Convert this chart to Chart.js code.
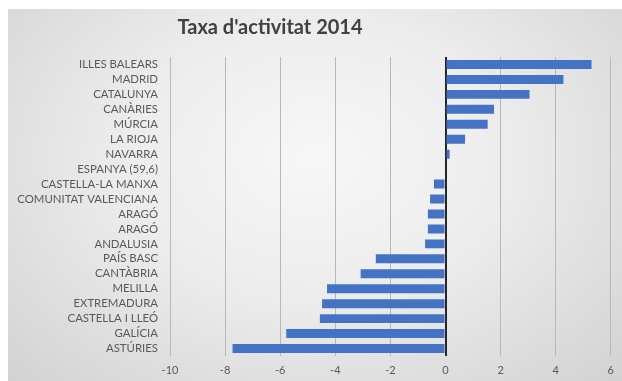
<!DOCTYPE html>
<html>
<head>
<meta charset="utf-8">
<script src="https://cdn.jsdelivr.net/npm/chart.js@4/dist/chart.umd.min.js"></script>
<style>
  html, body { margin: 0; padding: 0; background: #fff; }
  #wrap { position: relative; width: 622px; height: 381px; overflow: hidden; }
  #bg {
    position: absolute; left: 8px; top: 9px; width: 614px; height: 372px;
    background: radial-gradient(ellipse at 50% 40%, #f7f7f7 0%, #ececec 45%, #d2d2d2 100%);
  }
  #chart { position: absolute; left: 0; top: 0; }
</style>
</head>
<body>
<div id="wrap">
  <div id="bg"></div>
  <canvas id="chart" width="622" height="381"></canvas>
</div>
<script>
const regions = [
  'ILLES BALEARS', 'MADRID', 'CATALUNYA', 'CANÀRIES', 'MÚRCIA', 'LA RIOJA',
  'NAVARRA', 'ESPANYA (59,6)', 'CASTELLA-LA MANXA', 'COMUNITAT VALENCIANA',
  'ARAGÓ', 'ARAGÓ', 'ANDALUSIA', 'PAÍS BASC', 'CANTÀBRIA', 'MELILLA',
  'EXTREMADURA', 'CASTELLA I LLEÓ', 'GALÍCIA', 'ASTÚRIES'
]
const diffs = [
  5.3, 4.28, 3.05, 1.76, 1.53, 0.71,
  0.15, 0, -0.42, -0.56,
  -0.64, -0.64, -0.74, -2.53, -3.08, -4.3,
  -4.48, -4.56, -5.78, -7.73
]
const xMin = -10
const xMax = 6
const xStep = 2
const titleText = "Taxa d'activitat 2014"

const font = 'Lato, "Open Sans", sans-serif'

// title sits left of centre in the original, so draw it by hand
const titlePlugin = {
  id: 'offsetTitle',
  afterDraw(chart) {
    const ctx = chart.ctx
    ctx.save()
    ctx.fillStyle = '#404040'
    ctx.font = 'bold 20px ' + font
    ctx.textAlign = 'center'
    ctx.textBaseline = 'alphabetic'
    ctx.fillText(titleText, 270, 34)
    ctx.restore()
  },
}

new Chart(document.getElementById('chart'), {
  type: 'bar',
  data: {
    labels: regions.map((r, i) => i),
    datasets: [
      {
        data: diffs,
        backgroundColor: '#4472c4',
        barPercentage: 0.6,
        categoryPercentage: 1,
      },
    ],
  },
  plugins: [titlePlugin],
  options: {
    indexAxis: 'y',
    responsive: false,
    animation: false,
    layout: { padding: { left: 0, right: 11, top: 57, bottom: 0 } },
    plugins: {
      legend: { display: false },
      tooltip: { enabled: false },
      title: { display: false },
    },
    scales: {
      x: {
        min: xMin,
        max: xMax,
        ticks: {
          stepSize: xStep,
          color: '#595959',
          font: { family: font, size: 11 },
          padding: 8,
        },
        grid: {
          drawTicks: false,
          color: (ctx) => (ctx.tick && ctx.tick.value === 0 ? '#262626' : '#b8b8b8'),
          lineWidth: (ctx) => (ctx.tick && ctx.tick.value === 0 ? 2 : 1),
        },
        border: { display: false },
        afterFit: (scale) => { scale.height = 25 },
      },
      y: {
        ticks: {
          color: '#595959',
          font: { family: font, size: 11.4 },
          padding: 4,
          autoSkip: false,
          callback: (v, i) => regions[i],
        },
        grid: { display: false },
        border: { display: false },
        afterFit: (scale) => { scale.width = 170 },
      },
    },
  },
})
</script>
</body>
</html>
